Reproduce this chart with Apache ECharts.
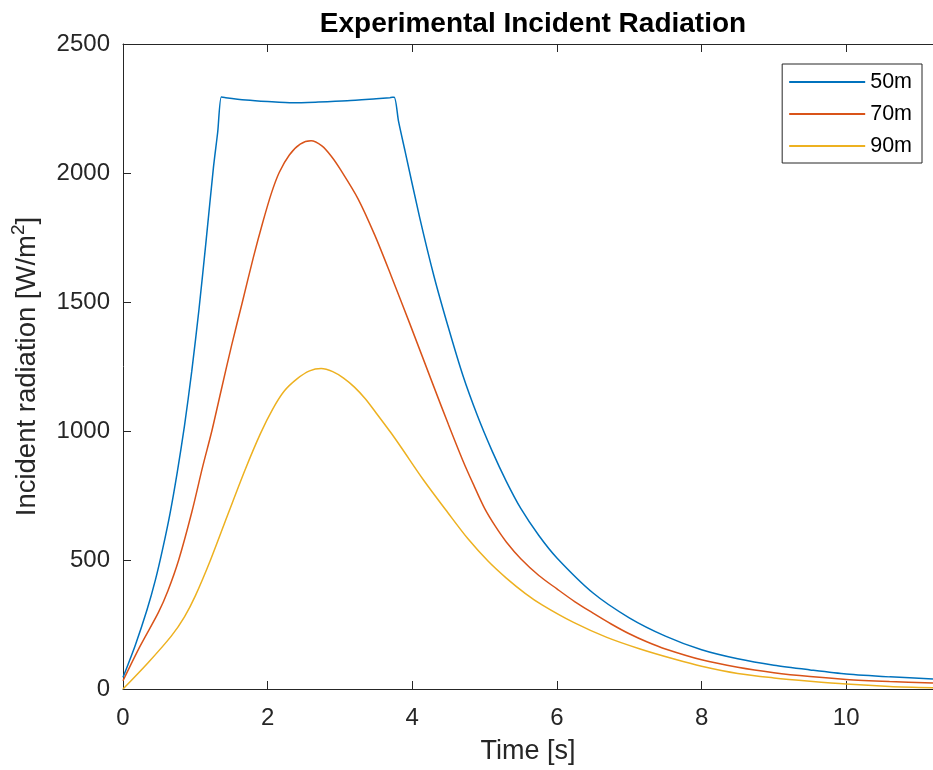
<!DOCTYPE html>
<html>
<head>
<meta charset="utf-8">
<script src="https://cdn.jsdelivr.net/npm/echarts@6/dist/echarts.min.js"></script>
<style>
html,body{margin:0;padding:0;background:#fff;}
#chart{width:933px;height:770px;}
</style>
</head>
<body>
<div id="chart"></div>
<script>
// ---- data ----
const seriesNames = ['50m', '70m', '90m'];

const t50 = [0, 0.17, 0.33, 0.45, 0.55, 0.65, 0.75, 0.85, 0.95, 1.05, 1.15, 1.25, 1.31, 1.36, 1.42, 1.7, 2.0, 2.35, 2.7, 3.1, 3.5, 3.69, 3.75, 3.81, 3.9, 4.1, 4.3, 4.5, 4.7, 4.9, 5.1, 5.3, 5.5, 5.75, 6.0, 6.5, 7.0, 7.5, 8.0, 8.5, 9.0, 9.5, 10.0, 10.6, 11.2];
const v50 = [45, 170, 305, 425, 545, 680, 840, 1020, 1230, 1470, 1740, 2020, 2160, 2295, 2292, 2283, 2277, 2272, 2275, 2280, 2288, 2292, 2294, 2200, 2085, 1830, 1600, 1400, 1215, 1060, 925, 805, 700, 595, 508, 372, 276, 205, 152, 117, 92, 74, 58, 47, 39];

const t70 = [0, 0.24, 0.49, 0.62, 0.77, 0.95, 1.1, 1.23, 1.36, 1.5, 1.65, 1.8, 1.93, 2.05, 2.16, 2.3, 2.45, 2.6, 2.75, 2.88, 3.01, 3.25, 3.48, 3.71, 3.96, 4.3, 4.5, 4.7, 4.85, 5.0, 5.15, 5.3, 5.5, 5.75, 6.0, 6.25, 6.5, 6.75, 7.0, 7.25, 7.5, 8.0, 8.5, 9.0, 9.5, 10.0, 10.6, 11.2];
const v70 = [32, 168, 297, 380, 500, 684, 860, 1002, 1161, 1330, 1499, 1670, 1806, 1920, 2002, 2070, 2112, 2125, 2105, 2065, 2012, 1900, 1760, 1600, 1420, 1170, 1025, 885, 790, 700, 630, 570, 505, 440, 388, 338, 294, 252, 214, 182, 155, 113, 84, 63, 48, 37, 29, 23];

const t90 = [0, 0.35, 0.67, 0.85, 1.0, 1.21, 1.46, 1.69, 1.9, 2.07, 2.23, 2.41, 2.58, 2.74, 2.9, 3.05, 3.2, 3.35, 3.5, 3.7, 3.85, 4.15, 4.49, 4.77, 5.05, 5.3, 5.56, 5.8, 6.23, 6.69, 7.15, 7.62, 8.0, 8.5, 9.0, 9.5, 10.0, 10.6, 11.2];
const v90 = [0, 103, 206, 280, 361, 500, 684, 851, 990, 1085, 1155, 1203, 1233, 1242, 1230, 1205, 1170, 1125, 1070, 995, 935, 812, 684, 582, 495, 430, 371, 325, 258, 200, 155, 116, 88, 60, 43, 30, 19, 10, 5];

const xTicks = [0, 2, 4, 6, 8, 10];
const yTicks = [0, 500, 1000, 1500, 2000, 2500];

// ---- chart ----
const pair = (t, v) => t.map((x, i) => [x, v[i]]);
const colors = ['#0072BD', '#D95319', '#EDB120'];
const font = 'Liberation Sans, Arial, Helvetica, sans-serif';
const axisCol = '#262626';

const chart = echarts.init(document.getElementById('chart'), null, {renderer: 'canvas'});
chart.setOption({
  animation: false,
  backgroundColor: '#fff',
  color: colors,
  title: {
    text: 'Experimental Incident Radiation',
    left: 528, top: 5, textAlign: 'center',
    textStyle: {fontFamily: font, fontSize: 28, fontWeight: 'bold', color: '#000'}
  },
  grid: {left: 123, right: 0, top: 44, bottom: 80, containLabel: false},
  legend: {
    data: seriesNames,
    orient: 'vertical',
    right: 11, top: 64,
    icon: 'rect',
    itemWidth: 76, itemHeight: 2, itemGap: 10,
    padding: [7, 10, 6, 7],
    borderColor: '#262626', borderWidth: 1, backgroundColor: '#fff',
    textStyle: {fontFamily: font, fontSize: 21.5, lineHeight: 22, color: '#000'}
  },
  xAxis: [{
    type: 'value', min: 0, max: 11.2, interval: 2,
    name: 'Time [s]', nameLocation: 'middle', nameGap: 49,
    nameTextStyle: {fontFamily: font, fontSize: 27, color: axisCol},
    axisLine: {onZero: false, lineStyle: {color: axisCol, width: 1}},
    axisTick: {inside: true, length: 8, lineStyle: {color: axisCol}},
    axisLabel: {fontFamily: font, fontSize: 24, color: axisCol, margin: 17, showMaxLabel: false,
      formatter: v => xTicks.includes(v) ? String(v) : ''},
    splitLine: {show: false}
  }, {
    type: 'value', position: 'top', min: 0, max: 11.2, interval: 2,
    axisLine: {onZero: false, lineStyle: {color: axisCol, width: 1}},
    axisTick: {inside: true, length: 8, lineStyle: {color: axisCol}},
    axisLabel: {show: false}, splitLine: {show: false}
  }],
  yAxis: {
    type: 'value', min: 0, max: 2500, interval: 500,
    name: 'Incident radiation [W/m{s|2}]', nameLocation: 'middle', nameGap: 78,
    nameTextStyle: {fontFamily: font, fontSize: 27.5, lineHeight: 36, color: axisCol,
      rich: {s: {fontFamily: font, fontSize: 19, lineHeight: 19, color: axisCol, verticalAlign: 'top'}}},
    axisLine: {show: true, lineStyle: {color: axisCol, width: 1}},
    axisTick: {show: true, inside: true, length: 8, lineStyle: {color: axisCol}},
    axisLabel: {fontFamily: font, fontSize: 24, color: axisCol, margin: 13,
      formatter: v => yTicks.includes(v) ? String(v) : ''},
    splitLine: {show: false}
  },
  series: [
    {name: seriesNames[0], type: 'line', data: pair(t50, v50), symbol: 'none', smooth: 0.25, lineStyle: {width: 1.5}},
    {name: seriesNames[1], type: 'line', data: pair(t70, v70), symbol: 'none', smooth: 0.3, lineStyle: {width: 1.5}},
    {name: seriesNames[2], type: 'line', data: pair(t90, v90), symbol: 'none', smooth: 0.3, lineStyle: {width: 1.5}}
  ]
});
</script>
</body>
</html>
